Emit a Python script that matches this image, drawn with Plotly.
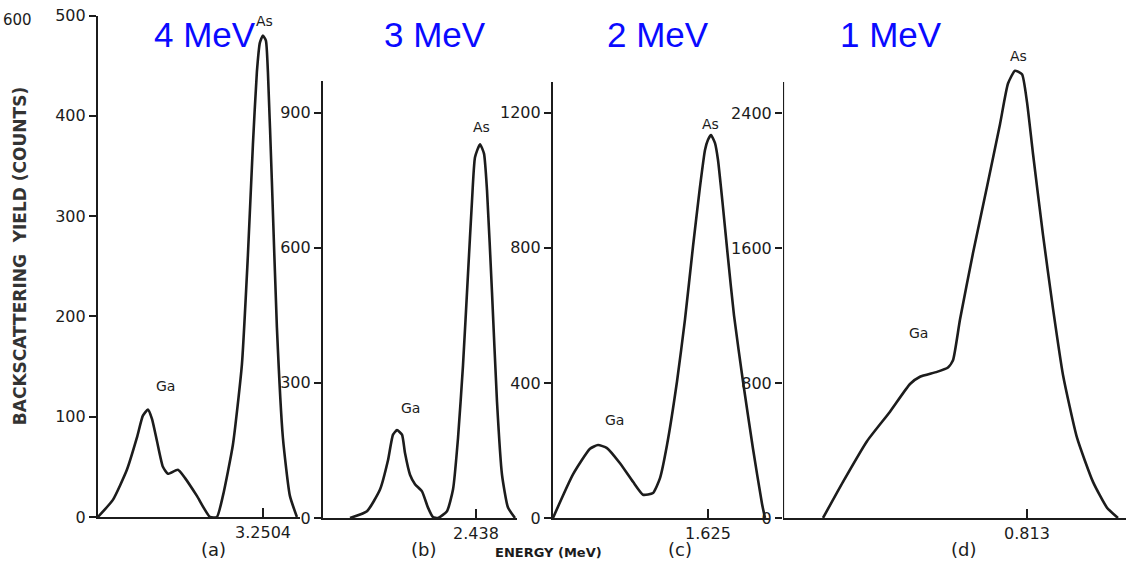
import plotly.graph_objects as go

# ---- data ----
# (a) 4 MeV
ea = [2.590, 2.650, 2.706, 2.746, 2.770, 2.790, 2.806, 2.826, 2.850, 2.870, 2.910, 2.938, 2.986, 3.038,
      3.066, 3.090, 3.130, 3.166, 3.190, 3.210, 3.226, 3.238, 3.250, 3.262, 3.270, 3.286, 3.306, 3.330, 3.358, 3.386]
ca = [0, 17, 47, 79, 101, 107, 98, 76, 50, 43, 47, 39, 21, 0,
      0, 21, 72, 152, 261, 371, 444, 473, 480, 475, 444, 334, 189, 79, 21, 0]
# (b) 3 MeV
eb = [2.060, 2.111, 2.150, 2.174, 2.189, 2.201, 2.216, 2.225, 2.240, 2.255, 2.276, 2.294, 2.309, 2.324,
      2.351, 2.369, 2.384, 2.399, 2.414, 2.426, 2.435, 2.450, 2.462, 2.471, 2.486, 2.501, 2.516, 2.534, 2.555]
cb = [0, 15, 63, 128, 185, 195, 185, 144, 96, 75, 59, 23, 2, 0,
      15, 63, 177, 339, 542, 704, 801, 830, 809, 728, 501, 258, 96, 23, 0]
# (c) 2 MeV
ec = [1.315, 1.355, 1.389, 1.405, 1.423, 1.449, 1.475, 1.495, 1.515, 1.529, 1.543, 1.563, 1.579, 1.595,
      1.609, 1.619, 1.625, 1.631, 1.639, 1.645, 1.655, 1.665, 1.677, 1.695, 1.715, 1.733, 1.739]
cc = [0, 129, 205, 216, 207, 162, 107, 69, 74, 118, 216, 404, 588, 804,
      981, 1090, 1120, 1134, 1110, 1060, 920, 770, 600, 404, 205, 42, 0]
# (d) 1 MeV
ed = [0.609, 0.629, 0.653, 0.676, 0.696, 0.706, 0.723, 0.734, 0.739, 0.746, 0.759, 0.773, 0.786, 0.794,
      0.801, 0.808, 0.813, 0.819, 0.829, 0.839, 0.849, 0.863, 0.879, 0.893, 0.904]
cd = [0, 214, 455, 630, 794, 837, 866, 892, 935, 1176, 1570, 1963, 2334, 2575,
      2651, 2630, 2465, 2159, 1678, 1241, 848, 476, 214, 61, 0]

energies = [ea, eb, ec, ed]
counts = [ca, cb, cc, cd]
beam_labels = ["4 MeV", "3 MeV", "2 MeV", "1 MeV"]
panel_labels = ["(a)", "(b)", "(c)", "(d)"]
edge_values = [3.2504, 2.438, 1.625, 0.813]
edge_texts = ["3.2504", "2.438", "1.625", "0.813"]
y_ticks = [[0, 100, 200, 300, 400, 500], [0, 300, 600, 900], [0, 400, 800, 1200], [0, 800, 1600, 2400]]
ga_pos = [(2.862, 131), (2.240, 245), (1.437, 291), (0.704, 1099)]
as_pos = [(3.258, 495), (2.453, 869), (1.629, 1167), (0.804, 2739)]

# ---- layout geometry (pixels of the target picture) ----
W, H = 1128, 572
x_px = [(98, 300), (323, 517), (553, 770), (783, 1126)]
y_px = [(517, 17), (518, 82), (518, 83), (518, 47)]
x_rng = [[2.5904, 3.3984], [1.979, 2.561], [1.315, 1.749], [0.569, 0.912]]
y_rng = [[0, 500], [0, 971], [0, 1292], [0, 2800]]

# measured mapping of page rows to picture rows: row = TOP + SCALE * page_row
TOP, SCALE = 10.5, 0.964


def page_y(py):
    return (py - TOP) / SCALE


def fy(py):
    return 1 - page_y(py) / H


def fx(px):
    return px / W


INK = "#1c1c1c"
FONT = "DejaVu Sans"

fig = go.Figure()
layout = dict(width=W, height=H, margin=dict(l=0, r=0, t=0, b=0),
              paper_bgcolor="white", plot_bgcolor="white", showlegend=False)
annotations = []
shapes = []


def label(text, px, py, size, color=INK, family=FONT, angle=0):
    yp = page_y(py)
    half = size * 0.65 + 1
    ann = dict(text=text, xref="paper", yref="paper", x=fx(px),
               xanchor="center", yanchor="middle", showarrow=False, textangle=angle,
               font=dict(family=family, size=size, color=color))
    if angle == 0 and yp + half > H:
        ann.update(y=0.0, yanchor="bottom")
    elif angle == 0 and yp - half < 0:
        ann.update(y=1.0, yanchor="top")
    else:
        ann.update(y=1 - yp / H)
    return ann


for i in range(4):
    sx = "" if i == 0 else str(i + 1)
    fig.add_trace(go.Scatter(x=energies[i], y=counts[i], mode="lines",
                             line=dict(color=INK, width=2.6, shape="spline", smoothing=0.5),
                             xaxis="x" + sx, yaxis="y" + sx, hoverinfo="skip"))
    xd = [max(fx(x_px[i][0]), 0), min(fx(x_px[i][1]), 1)]
    yd = [fy(y_px[i][0]), min(fy(y_px[i][1]), 1)]
    layout["xaxis" + sx] = dict(domain=xd, range=x_rng[i], anchor="y" + sx,
                                showgrid=False, zeroline=False, showline=True,
                                linecolor=INK, linewidth=2.2,
                                tickvals=[edge_values[i]], ticktext=[edge_texts[i]],
                                ticks="inside", ticklen=9, tickwidth=2, tickcolor=INK,
                                tickfont=dict(family=FONT, size=16, color=INK))
    layout["yaxis" + sx] = dict(domain=yd, range=y_rng[i], anchor="x" + sx,
                                showgrid=False, zeroline=False,
                                showline=(i != 3), linecolor=INK, linewidth=2.2,
                                tickvals=y_ticks[i], ticks="outside", ticklen=7, tickwidth=2,
                                tickcolor=INK, ticklabeloverflow="allow",
                                tickfont=dict(family=FONT, size=16, color=INK))
    annotations.append(label(panel_labels[i], [213, 423, 680, 963][i], 555, 18))
    annotations.append(label(beam_labels[i], [205, 435, 658, 891][i], 36, 35,
                             color="#0a0aff", family="Liberation Sans"))
    annotations.append(dict(text="Ga", xref="x" + sx, yref="y" + sx,
                            x=ga_pos[i][0], y=ga_pos[i][1], showarrow=False,
                            font=dict(family=FONT, size=14, color=INK)))
    annotations.append(dict(text="As", xref="x" + sx, yref="y" + sx,
                            x=as_pos[i][0], y=as_pos[i][1], showarrow=False,
                            font=dict(family=FONT, size=14, color=INK)))

# y axis line for panel (d) (the peak rises above it)
shapes.append(dict(type="line", xref="x4", yref="y4", x0=x_rng[3][0], x1=x_rng[3][0],
                   y0=0, y1=2585, line=dict(color=INK, width=2.2)))

annotations.append(label("<b>BACKSCATTERING\u00a0\u00a0YIELD (COUNTS)</b>", 20, 257, 17,
                         color="#333333", angle=-90))
annotations.append(label("<b>ENERGY (MeV)</b>", 548, 560, 13))
annotations.append(label("600", 17, 13, 15))

layout["annotations"] = annotations
layout["shapes"] = shapes
fig.update_layout(**layout)

page_fix = (
    "var s=[document.documentElement, document.body];"
    "for (var k=0;k<s.length;k++){s[k].style.margin='0px';s[k].style.padding='0px';"
    "s[k].style.overflow='hidden';s[k].style.height='572px';s[k].style.width='1128px';}"
    "var g=document.getElementById('{plot_id}');"
    "g.style.position='fixed';g.style.left='0px';g.style.top='0px';"
)
fig.write_html("out.html", post_script=page_fix,
               config={"displayModeBar": False, "responsive": False})
